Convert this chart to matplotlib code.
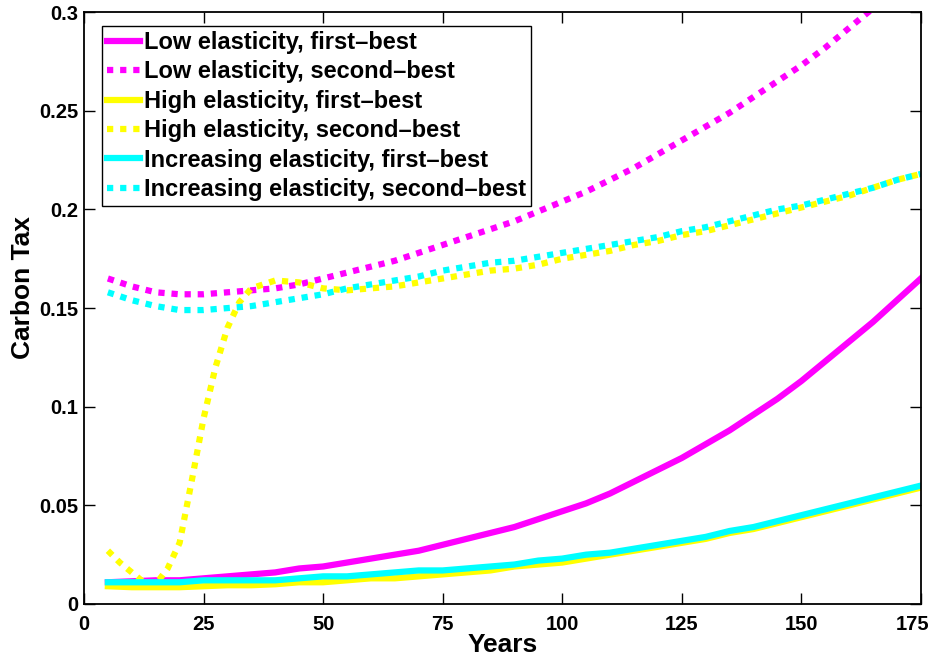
import matplotlib
matplotlib.use("Agg")
import matplotlib.pyplot as plt
from matplotlib.transforms import ScaledTranslation

# data
years = [5, 10, 15, 20, 25, 30, 35, 40, 45, 50, 55, 60, 65, 70, 75, 80, 85, 90,
         95, 100, 105, 110, 115, 120, 125, 130, 135, 140, 145, 150, 155, 160,
         165, 170, 175]

low_first = [0.011, 0.0115, 0.012, 0.012, 0.013, 0.014, 0.015, 0.016, 0.018, 0.019,
             0.021, 0.023, 0.025, 0.027, 0.030, 0.033, 0.036, 0.039, 0.043, 0.047,
             0.051, 0.056, 0.062, 0.068, 0.074, 0.081, 0.088, 0.096, 0.104, 0.113,
             0.123, 0.133, 0.143, 0.154, 0.165]
low_second = [0.165, 0.161, 0.158, 0.157, 0.157, 0.158, 0.159, 0.160, 0.162, 0.165,
              0.168, 0.171, 0.174, 0.178, 0.182, 0.186, 0.190, 0.194, 0.199, 0.204,
              0.209, 0.215, 0.221, 0.228, 0.235, 0.242, 0.249, 0.257, 0.265, 0.273,
              0.282, 0.292, 0.302, 0.313, 0.324]
high_first = [0.009, 0.0085, 0.0085, 0.0085, 0.009, 0.0095, 0.0095, 0.010, 0.011, 0.011,
              0.012, 0.013, 0.013, 0.014, 0.015, 0.016, 0.017, 0.019, 0.020, 0.021,
              0.023, 0.025, 0.027, 0.029, 0.031, 0.033, 0.036, 0.038, 0.041, 0.044,
              0.047, 0.050, 0.053, 0.056, 0.059]
inc_first = [0.011, 0.011, 0.011, 0.011, 0.012, 0.012, 0.012, 0.012, 0.013, 0.014,
             0.014, 0.015, 0.016, 0.017, 0.017, 0.018, 0.019, 0.020, 0.022, 0.023,
             0.025, 0.026, 0.028, 0.030, 0.032, 0.034, 0.037, 0.039, 0.042, 0.045,
             0.048, 0.051, 0.054, 0.057, 0.060]
inc_second = [0.158, 0.154, 0.151, 0.149, 0.149, 0.150, 0.151, 0.153, 0.155, 0.157,
              0.160, 0.162, 0.164, 0.166, 0.169, 0.171, 0.173, 0.174, 0.176, 0.178,
              0.180, 0.182, 0.184, 0.186, 0.189, 0.191, 0.194, 0.197, 0.200, 0.202,
              0.205, 0.208, 0.211, 0.215, 0.218]

# high elasticity second-best has a sharp early jump, so it gets a finer grid
years_hs = [5, 7.5, 10, 12.5, 15, 17.5, 20, 22.5, 25, 27.5, 30, 32.5, 35, 40, 45, 50,
            55, 60, 65, 70, 75, 80, 85, 90, 95, 100, 105, 110, 115, 120, 125, 130,
            135, 140, 145, 150, 155, 160, 165, 170, 175]
high_second = [0.027, 0.021, 0.016, 0.011, 0.010, 0.018, 0.031, 0.062, 0.094, 0.120,
               0.140, 0.153, 0.160, 0.164, 0.163, 0.160, 0.159, 0.160, 0.161, 0.163,
               0.165, 0.167, 0.169, 0.170, 0.172, 0.175, 0.177, 0.179, 0.182, 0.184,
               0.187, 0.189, 0.192, 0.195, 0.198, 0.201, 0.204, 0.207, 0.211, 0.215,
               0.218]

xticks = [0, 25, 50, 75, 100, 125, 150, 175]
yticks = [0, 0.05, 0.1, 0.15, 0.2, 0.25, 0.3]
ytick_labels = ["0", "0.05", "0.1", "0.15", "0.2", "0.25", "0.3"]

plt.rcParams["font.family"] = ["Liberation Sans", "DejaVu Sans"]
plt.rcParams["font.weight"] = "bold"

fig = plt.figure(figsize=(9.33, 6.59), dpi=100)
ax = fig.add_axes([0.090, 0.0835, 0.897, 0.898])

lw = 4.5
dot = (0, (1, 1.1))
ax.plot(years, low_first, color="#ff00ff", lw=lw, label="Low elasticity, first\u2013best")
ax.plot(years, low_second, color="#ff00ff", lw=lw, ls=dot, dash_capstyle="butt",
        label="Low elasticity, second\u2013best")
ax.plot(years, high_first, color="#ffff00", lw=lw, label="High elasticity, first\u2013best")
ax.plot(years_hs, high_second, color="#ffff00", lw=lw, ls=dot, dash_capstyle="butt",
        label="High elasticity, second\u2013best")
ax.plot(years, inc_first, color="#00ffff", lw=lw, label="Increasing elasticity, first\u2013best")
ax.plot(years, inc_second, color="#00ffff", lw=lw, ls=dot, dash_capstyle="butt",
        label="Increasing elasticity, second\u2013best")

ax.set_xlim(0, 175)
ax.set_ylim(0, 0.3)
ax.set_xticks(xticks)
ax.set_yticks(yticks)
ax.set_yticklabels(ytick_labels)
ax.tick_params(direction="in", length=8, width=1, top=True, right=True, labelsize=14.5)
ax.tick_params(axis="y", pad=4)
ax.tick_params(axis="x", pad=8)
for sp in ax.spines.values():
    sp.set_linewidth(1.3)

# keep the last x tick label inside the figure, as in the reference
fig.canvas.draw()
last = ax.get_xticklabels()[-1]
last.set_transform(last.get_transform() + ScaledTranslation(-8 / 100, 0, fig.dpi_scale_trans))

ax.set_xlabel("Years", fontsize=19, fontweight="bold", labelpad=-1)
ax.set_ylabel("Carbon Tax", fontsize=19, fontweight="bold")
ax.yaxis.set_label_coords(-0.058, 0.535)

leg = ax.legend(loc="upper left", bbox_to_anchor=(0.022, 0.976), borderaxespad=0,
                prop={"size": 17, "weight": "bold"}, handlelength=1.4,
                handletextpad=0.15, labelspacing=0.27, borderpad=0.2,
                fancybox=False, framealpha=1)
leg.get_frame().set_edgecolor("black")
leg.get_frame().set_linewidth(1.0)

fig.savefig("out.png", dpi=100)
